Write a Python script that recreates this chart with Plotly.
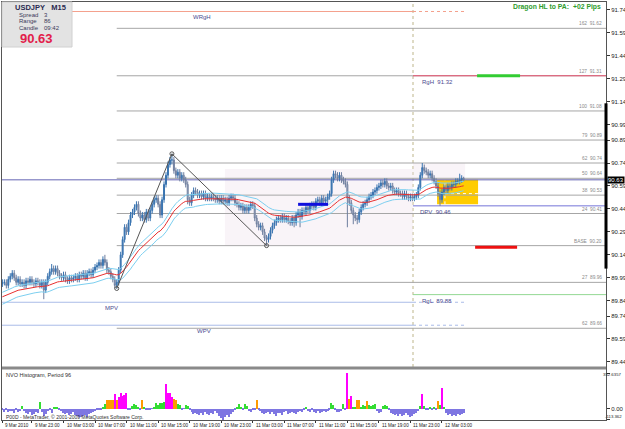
import plotly.graph_objects as go

# ---------------- data ----------------
closes = [89.96, 89.96, 89.94, 89.98, 90.00, 90.02, 89.99, 89.96, 89.98, 89.95,
          89.96, 89.94, 89.97, 89.96, 89.98, 89.96, 89.95, 89.97, 89.96, 89.94,
          89.96, 89.91, 89.96, 90.00, 90.03, 90.05, 90.03, 90.05, 90.02, 90.00,
          89.99, 90.01, 89.98, 89.97, 89.99, 89.98, 89.99, 90.00, 89.98, 90.01,
          90.00, 90.02, 89.99, 90.02, 90.03, 90.01, 90.04, 90.06, 90.07, 90.09,
          90.07, 90.11, 90.09, 90.04, 90.03, 90.00, 89.98, 89.94, 89.96, 90.04,
          90.14, 90.24, 90.32, 90.29, 90.35, 90.40, 90.42, 90.45, 90.47, 90.41,
          90.38, 90.40, 90.37, 90.42, 90.38, 90.43, 90.47, 90.50, 90.51, 90.47,
          90.40, 90.50, 90.60, 90.66, 90.73, 90.76, 90.76, 90.69, 90.66, 90.68,
          90.64, 90.66, 90.63, 90.60, 90.50, 90.48, 90.53, 90.56, 90.55, 90.53,
          90.54, 90.52, 90.54, 90.51, 90.52, 90.51, 90.52, 90.51, 90.50, 90.51,
          90.49, 90.51, 90.49, 90.50, 90.48, 90.51, 90.52, 90.51, 90.48, 90.47,
          90.45, 90.46, 90.43, 90.45, 90.43, 90.45, 90.47, 90.46, 90.38, 90.34,
          90.32, 90.33, 90.29, 90.25, 90.24, 90.26, 90.30, 90.33, 90.35, 90.37,
          90.38, 90.37, 90.39, 90.37, 90.38, 90.36, 90.35, 90.38, 90.35, 90.40,
          90.42, 90.39, 90.43, 90.42, 90.45, 90.43, 90.46, 90.47, 90.45, 90.49,
          90.50, 90.48, 90.51, 90.49, 90.50, 90.52, 90.54, 90.63, 90.67, 90.66,
          90.64, 90.66, 90.63, 90.62, 90.60, 90.51, 90.48, 90.43, 90.40, 90.38,
          90.37, 90.42, 90.45, 90.47, 90.48, 90.50, 90.52, 90.53, 90.55, 90.56,
          90.58, 90.59, 90.61, 90.60, 90.62, 90.59, 90.58, 90.59, 90.56, 90.55,
          90.56, 90.54, 90.54, 90.52, 90.54, 90.52, 90.51, 90.52, 90.51, 90.52,
          90.53, 90.58, 90.66, 90.71, 90.69, 90.68, 90.66, 90.67, 90.64, 90.62,
          90.59, 90.54, 90.50, 90.55, 90.58, 90.56, 90.59, 90.58, 90.60, 90.60,
          90.62, 90.62, 90.63, 90.64, 90.63]

opens = [89.95, 89.96, 89.96, 89.94, 89.98, 90.00, 90.02, 89.99, 89.96, 89.98,
         89.95, 89.96, 89.94, 89.97, 89.96, 89.98, 89.96, 89.95, 89.97, 89.96,
         89.94, 89.96, 89.91, 89.96, 90.00, 90.03, 90.05, 90.03, 90.05, 90.02,
         90.00, 89.99, 90.01, 89.98, 89.97, 89.99, 89.98, 89.99, 90.00, 89.98,
         90.01, 90.00, 90.02, 89.99, 90.02, 90.03, 90.01, 90.04, 90.06, 90.07,
         90.09, 90.07, 90.11, 90.09, 90.04, 90.03, 90.00, 89.98, 89.94, 89.96,
         90.04, 90.14, 90.24, 90.32, 90.29, 90.35, 90.40, 90.42, 90.45, 90.47,
         90.41, 90.38, 90.40, 90.37, 90.42, 90.38, 90.43, 90.47, 90.50, 90.51,
         90.47, 90.40, 90.50, 90.60, 90.66, 90.73, 90.76, 90.76, 90.69, 90.66,
         90.68, 90.64, 90.66, 90.63, 90.60, 90.50, 90.48, 90.53, 90.56, 90.55,
         90.53, 90.54, 90.52, 90.54, 90.51, 90.52, 90.51, 90.52, 90.51, 90.50,
         90.51, 90.49, 90.51, 90.49, 90.50, 90.48, 90.51, 90.52, 90.51, 90.48,
         90.47, 90.45, 90.46, 90.43, 90.45, 90.43, 90.45, 90.47, 90.46, 90.38,
         90.34, 90.32, 90.33, 90.29, 90.25, 90.24, 90.26, 90.30, 90.33, 90.35,
         90.37, 90.38, 90.37, 90.39, 90.37, 90.38, 90.36, 90.35, 90.38, 90.35,
         90.40, 90.42, 90.39, 90.43, 90.42, 90.45, 90.43, 90.46, 90.47, 90.45,
         90.49, 90.50, 90.48, 90.51, 90.49, 90.50, 90.52, 90.54, 90.63, 90.67,
         90.66, 90.64, 90.66, 90.63, 90.62, 90.60, 90.51, 90.48, 90.43, 90.40,
         90.38, 90.37, 90.42, 90.45, 90.47, 90.48, 90.50, 90.52, 90.53, 90.55,
         90.56, 90.58, 90.59, 90.61, 90.60, 90.62, 90.59, 90.58, 90.59, 90.56,
         90.55, 90.56, 90.54, 90.54, 90.52, 90.54, 90.52, 90.51, 90.52, 90.51,
         90.52, 90.53, 90.58, 90.66, 90.71, 90.69, 90.68, 90.66, 90.67, 90.64,
         90.62, 90.59, 90.54, 90.50, 90.55, 90.58, 90.56, 90.59, 90.58, 90.60,
         90.60, 90.62, 90.62, 90.63, 90.64]

highs = [89.98, 89.98, 89.98, 90.00, 90.02, 90.04, 90.04, 90.01, 90.00, 90.00,
         89.98, 89.98, 89.99, 89.99, 90.00, 90.00, 89.98, 89.99, 89.99, 89.98,
         89.98, 89.98, 89.98, 90.02, 90.05, 90.08, 90.07, 90.07, 90.07, 90.04,
         90.02, 90.03, 90.03, 90.00, 90.01, 90.01, 90.01, 90.02, 90.02, 90.03,
         90.03, 90.04, 90.04, 90.04, 90.05, 90.05, 90.06, 90.08, 90.09, 90.11,
         90.11, 90.13, 90.14, 90.11, 90.06, 90.05, 90.02, 90.00, 89.98, 90.06,
         90.16, 90.26, 90.34, 90.34, 90.37, 90.42, 90.44, 90.47, 90.49, 90.49,
         90.43, 90.42, 90.42, 90.44, 90.44, 90.45, 90.49, 90.52, 90.53, 90.53,
         90.49, 90.52, 90.62, 90.68, 90.75, 90.78, 90.80, 90.78, 90.71, 90.70,
         90.70, 90.68, 90.68, 90.65, 90.62, 90.52, 90.55, 90.58, 90.58, 90.57,
         90.56, 90.56, 90.56, 90.56, 90.54, 90.54, 90.54, 90.54, 90.53, 90.53,
         90.53, 90.53, 90.53, 90.52, 90.52, 90.53, 90.54, 90.54, 90.53, 90.50,
         90.49, 90.48, 90.48, 90.47, 90.47, 90.47, 90.49, 90.49, 90.48, 90.40,
         90.36, 90.35, 90.35, 90.31, 90.27, 90.28, 90.32, 90.35, 90.37, 90.39,
         90.40, 90.40, 90.41, 90.41, 90.40, 90.40, 90.38, 90.40, 90.40, 90.42,
         90.44, 90.44, 90.45, 90.45, 90.47, 90.47, 90.48, 90.49, 90.49, 90.51,
         90.52, 90.52, 90.53, 90.53, 90.52, 90.54, 90.56, 90.65, 90.69, 90.69,
         90.68, 90.68, 90.68, 90.65, 90.64, 90.62, 90.53, 90.50, 90.45, 90.42,
         90.40, 90.44, 90.47, 90.49, 90.50, 90.52, 90.54, 90.55, 90.57, 90.58,
         90.60, 90.61, 90.63, 90.63, 90.64, 90.64, 90.61, 90.61, 90.61, 90.58,
         90.58, 90.58, 90.56, 90.56, 90.56, 90.56, 90.54, 90.54, 90.54, 90.54,
         90.55, 90.60, 90.68, 90.74, 90.73, 90.71, 90.70, 90.69, 90.69, 90.66,
         90.64, 90.61, 90.56, 90.57, 90.60, 90.60, 90.61, 90.61, 90.62, 90.62,
         90.64, 90.64, 90.67, 90.66, 90.65]

lows = [89.93, 89.94, 89.92, 89.92, 89.96, 89.98, 89.97, 89.94, 89.94, 89.93,
        89.93, 89.92, 89.92, 89.94, 89.94, 89.94, 89.93, 89.93, 89.94, 89.92,
        89.92, 89.85, 89.89, 89.94, 89.98, 90.01, 90.01, 90.01, 90.00, 89.98,
        89.97, 89.97, 89.96, 89.95, 89.95, 89.96, 89.96, 89.97, 89.96, 89.96,
        89.98, 89.98, 89.97, 89.97, 90.00, 89.99, 89.99, 90.02, 90.04, 90.05,
        90.05, 90.05, 90.07, 90.02, 90.01, 89.98, 89.96, 89.92, 89.92, 89.94,
        90.02, 90.12, 90.22, 90.27, 90.27, 90.33, 90.38, 90.40, 90.43, 90.39,
        90.36, 90.36, 90.35, 90.35, 90.36, 90.36, 90.41, 90.45, 90.48, 90.45,
        90.38, 90.38, 90.48, 90.58, 90.64, 90.71, 90.73, 90.67, 90.64, 90.64,
        90.62, 90.62, 90.61, 90.58, 90.47, 90.46, 90.46, 90.51, 90.53, 90.51,
        90.51, 90.50, 90.50, 90.49, 90.49, 90.49, 90.49, 90.49, 90.48, 90.48,
        90.47, 90.47, 90.47, 90.47, 90.46, 90.46, 90.49, 90.49, 90.46, 90.45,
        90.43, 90.43, 90.41, 90.41, 90.41, 90.41, 90.43, 90.44, 90.36, 90.32,
        90.30, 90.30, 90.27, 90.23, 90.20, 90.22, 90.24, 90.28, 90.31, 90.33,
        90.35, 90.35, 90.35, 90.35, 90.35, 90.34, 90.33, 90.33, 90.32, 90.33,
        90.38, 90.32, 90.37, 90.40, 90.40, 90.41, 90.41, 90.44, 90.43, 90.43,
        90.47, 90.46, 90.46, 90.47, 90.47, 90.48, 90.50, 90.52, 90.61, 90.64,
        90.62, 90.62, 90.61, 90.60, 90.58, 90.32, 90.46, 90.41, 90.34, 90.36,
        90.34, 90.35, 90.40, 90.43, 90.45, 90.46, 90.48, 90.50, 90.51, 90.53,
        90.54, 90.56, 90.57, 90.58, 90.58, 90.57, 90.56, 90.56, 90.54, 90.53,
        90.53, 90.52, 90.52, 90.50, 90.50, 90.50, 90.49, 90.49, 90.49, 90.49,
        90.50, 90.51, 90.56, 90.64, 90.67, 90.66, 90.64, 90.64, 90.62, 90.60,
        90.57, 90.52, 90.46, 90.48, 90.53, 90.54, 90.54, 90.56, 90.56, 90.58,
        90.58, 90.60, 90.60, 90.61, 90.62]

nvo_values = [-20, -35, -15, -40, -25, -30, -45, -20, -35, -25,
              25, -30, -45, -60, -40, -70, -55, -35, -50, 65,
              -40, -80, -60, -30, -20, -50, 10, 15, 12, -10,
              -30, -45, -60, -50, -70, -55, -40, -65, -75, -85,
              -90, -80, -70, -85, -60, -50, -40, -30, -20, -10,
              -15, 10, 45, 85, 88, 85, 90, 150, 85, 120,
              160, 130, 140, 160, -10, -20, 30, 45, 40, 20,
              -15, 90, 20, -10, -10, -15, -5, 10, 55, 40,
              60, 55, 70, 250, 155, 160, 120, 95, 90, 50,
              35, -10, -5, 40, 30, -20, -40, -55, -45, -60,
              -70, -50, -65, -40, -55, -70, -45, -60, -30, -50,
              -80, -95, -113.362, -85, -70, -90, -60, -40, -20, 10,
              50, 20, -15, 45, 30, -25, -40, -20, -10, 90,
              -15, -30, -45, -60, -50, -40, -55, -35, -60, -75,
              -50, -45, -65, -40, -30, -55, -45, -35, -50, -60,
              -40, -25, -35, -20, 15, -30, -40, -20, -35, -45,
              -30, -50, -35, -25, -40, -30, -15, 60, 40, -20,
              -35, -40, -25, 45, -10, 352.6357, 94, 124, 20, 15,
              90, 85, 10, 35, 30, 80, 35, 30, 35, 50,
              -30, -50, -40, 30, 40, 25, -20, -45, -60, -70,
              -55, -75, -60, -80, -65, -50, -70, -85, -75, -60,
              -45, -30, 25, 150, 30, -20, -10, 10, -15, 15,
              -10, 80, 35, 205, 20, -50, -70, -60, -80, -65,
              -75, -55, -70, -60, -50]

dragon_seed_high, dragon_seed_close, dragon_seed_low = 89.89, 89.86, 89.81
zigzag_bars = [58, 86, 134]
zigzag_prices = [89.92, 90.80, 90.20]

fib_names = ["162", "127", "100", "79", "62", "50", "38", "24", "BASE", "27", "62"]
fib_prices = [91.62, 91.31, 91.08, 90.89, 90.74, 90.64, 90.53, 90.41, 90.20, 89.96, 89.66]
fib_start_bar = 58

price_ticks = [91.74, 91.59, 91.44, 91.29, 91.14, 90.99, 90.89, 90.74, 90.59,
               90.44, 90.29, 90.14, 89.99, 89.84, 89.74, 89.59, 89.44]
time_tick_bars = [0, 15, 31, 47, 63, 79, 95, 111, 127, 143, 159, 175, 191, 207, 223]
time_tick_text = ["9 Mar 2010", "9 Mar 23:00", "10 Mar 03:00", "10 Mar 07:00", "10 Mar 11:00",
                  "10 Mar 15:00", "10 Mar 19:00", "10 Mar 23:00", "11 Mar 03:00", "11 Mar 07:00",
                  "11 Mar 11:00", "11 Mar 15:00", "11 Mar 19:00", "11 Mar 23:00", "12 Mar 03:00"]
nvo_max, nvo_min = 352.6357, -113.362
nvo_max_text, nvo_zero_text, nvo_min_text = "352.6357", "0.00", "-113.362"

bid_price = 90.63
session_bar = 208.3          # day separator
proj_end_bar = 234.7
wrgh, rgh, rgl, dpv, mpv, wpv = 91.73, 91.31, 89.88, 90.46, 89.83, 89.68
range_bar_prices = [90.05, 91.13]
box_bars = [220.5, 241.3]; box_prices = [90.47, 90.63]
zone_bars = [112.9, 208.3]; zone_prices = [90.20, 90.70]
zone2_bars = [208.3, 234.7]; zone2_prices = [90.63, 90.74]
marker_green = (240.8, 262.6, 91.31)
marker_red = (239.8, 261.1, 90.19)
marker_blue = (150.0, 165.2, 90.47)

# ---------------- indicators ----------------
def ema(vals, seed, n=34):
    k = 2.0 / (n + 1)
    e = seed
    out = []
    for v in vals:
        e = e + k * (v - e)
        out.append(e)
    return out

N = len(closes)
bars = list(range(N))
ema_h = ema(highs, dragon_seed_high)
ema_c = ema(closes, dragon_seed_close)
ema_l = ema(lows, dragon_seed_low)

def nvo_color(v):
    if v < 0:
        return "#7E76E2"
    if v < 75:
        return "#33DD33"
    if v < 110:
        return "#FF9A00"
    return "#FF00FF"

# ---------------- geometry helpers (pixel -> paper) ----------------
W, H = 625, 429
ML, MR, MT, MB = 2, 19, 2, 9
PW, PH = W - ML - MR, H - MT - MB
def px(x):
    return (x - ML) / PW
def py(y):
    return (H - MB - y) / PH

XR = [-0.2, 306.2]
main_dom = [py(367), 1.0]
low_dom = [0.0, py(369)]
YR = [89.407, 91.792]
Y2R = [-115.8, 397.8]

FONT = "Liberation Sans"
SLATE = "#4B4B8F"
GRAY = "#A6A6A6"

fig = go.Figure()

fig.add_trace(go.Scatter(x=bars, y=ema_h, mode="lines", line=dict(color="#7CCFF0", width=1), hoverinfo="skip"))
fig.add_trace(go.Scatter(x=bars, y=ema_l, mode="lines", line=dict(color="#7CCFF0", width=1), hoverinfo="skip"))
fig.add_trace(go.Scatter(x=bars, y=ema_c, mode="lines", line=dict(color="#E83030", width=1), hoverinfo="skip"))

fig.add_trace(go.Candlestick(
    x=bars, open=opens, high=highs, low=lows, close=closes,
    increasing=dict(line=dict(color="#3A74B0", width=1), fillcolor="#3A74B0"),
    decreasing=dict(line=dict(color="#6E7E9E", width=1), fillcolor="#C4C8D8"),
    whiskerwidth=0, xaxis="x", yaxis="y", hoverinfo="skip"))

fig.add_trace(go.Scatter(x=zigzag_bars, y=zigzag_prices, mode="lines+markers",
                         line=dict(color="#555555", width=1),
                         marker=dict(symbol="circle-open", size=4, color="#555555"),
                         hoverinfo="skip"))

fig.add_trace(go.Bar(x=bars, y=nvo_values, marker=dict(color=[nvo_color(v) for v in nvo_values], line=dict(width=0)),
                     width=0.65, xaxis="x2", yaxis="y2", hoverinfo="skip"))

shapes = []
def hline(x0, x1, y, color, width=1, dash="solid", layer="below"):
    shapes.append(dict(type="line", xref="x", yref="y", x0=x0, x1=x1, y0=y, y1=y,
                       line=dict(color=color, width=width, dash=dash), layer=layer))

# zones
shapes.append(dict(type="rect", xref="x", yref="y", x0=zone_bars[0], x1=zone_bars[1], y0=zone_prices[0], y1=zone_prices[1],
                   fillcolor="rgba(236,220,232,0.32)", line=dict(width=0), layer="below"))
shapes.append(dict(type="rect", xref="x", yref="y", x0=zone2_bars[0], x1=zone2_bars[1], y0=zone2_prices[0], y1=zone2_prices[1],
                   fillcolor="rgba(236,220,232,0.32)", line=dict(width=0), layer="below"))
shapes.append(dict(type="rect", xref="x", yref="y", x0=box_bars[0], x1=box_bars[1], y0=box_prices[0], y1=box_prices[1],
                   fillcolor="#FFCC00", line=dict(width=0), layer="below"))
hline(224.5, box_bars[1], 90.54, "white", 1, "dot")
shapes.append(dict(type="line", xref="x", yref="y", x0=224.5, x1=224.5, y0=box_prices[0], y1=box_prices[1],
                   line=dict(color="white", width=1, dash="dot"), layer="below"))

# fib levels
for p in fib_prices:
    hline(fib_start_bar, XR[1], p, GRAY)

# pivots / ranges
hline(XR[0], session_bar, wrgh, "#F4A08C")
hline(session_bar, proj_end_bar, wrgh, "#F4A08C", 1, "dot")
hline(session_bar, XR[1], rgh, "#E8506E")
hline(XR[0], XR[1], bid_price, "#6464B4")
hline(session_bar, XR[1], dpv, "#7474D8")
hline(session_bar, XR[1], rgl, "#94D894")
hline(XR[0], session_bar, mpv, "#AABCE8")
hline(session_bar, proj_end_bar, mpv, "#AABCE8", 1, "dot")
hline(XR[0], session_bar, wpv, "#AABCE8")
hline(session_bar, proj_end_bar, wpv, "#AABCE8", 1, "dot")

# day separator
shapes.append(dict(type="line", xref="x", yref="paper", x0=session_bar, x1=session_bar, y0=main_dom[0], y1=1,
                   line=dict(color="#BDB58A", width=1, dash="dot"), layer="below"))

# thick markers
hline(marker_green[0], marker_green[1], marker_green[2], "#33CC33", 3, "solid", "above")
hline(marker_red[0], marker_red[1], marker_red[2], "#EE1010", 3, "solid", "above")
hline(marker_blue[0], marker_blue[1], marker_blue[2], "#1010DD", 3, "solid", "above")

# range bar on price scale
shapes.append(dict(type="line", xref="paper", yref="y", x0=1.0, x1=1.0, y0=range_bar_prices[0], y1=range_bar_prices[1],
                   line=dict(color="black", width=3), layer="above"))

# info box
shapes.append(dict(type="rect", xref="paper", yref="paper", x0=px(2), x1=px(72), y0=py(47), y1=py(2),
                   fillcolor="#E3E3E3", line=dict(color="#D0D0D0", width=1), layer="above"))

# panel separator
shapes.append(dict(type="rect", xref="paper", yref="paper", x0=0, x1=1, y0=py(369.5), y1=py(366.5),
                   fillcolor="#8A8A8A", line=dict(width=0), layer="above"))

ann = []
def text(x, y, s, size=6, color="#333333", xanchor="left", yanchor="middle", bold=False, xref="paper", yref="paper", **kw):
    d = dict(x=x, y=y, xref=xref, yref=yref, text=("<b>%s</b>" % s) if bold else s, showarrow=False,
             font=dict(family=FONT, size=size, color=color), xanchor=xanchor, yanchor=yanchor)
    d.update(kw)
    ann.append(d)

# info box text
text(px(13), py(7), "USDJPY&nbsp;&nbsp;&nbsp;M15", 7.5, "#2A2A50", bold=True)
for row_y, lab, val in [(15, "Spread", "3"), (21.5, "Range", "86"), (28, "Candle", "09:42")]:
    text(px(17), py(row_y), lab, 6, "#3A3A5A")
    text(px(42), py(row_y), val, 6, "#3A3A5A")
text(px(18), py(38.5), "90.63", 13, "#E2204A", bold=True)

text(px(511), py(7), "Dragon HL to PA:", 6.8, "#2E9B2E", bold=True)
text(px(603), py(7), "+02 Pips", 6.8, "#2E9B2E", bold=True, xanchor="right")

# level labels
text(px(191), wrgh, "WRgH", 6, SLATE, yref="y", yanchor="top", yshift=-1)
text(px(420), rgh, "RgH&nbsp;&nbsp;91.32", 6, SLATE, yref="y", yanchor="top", yshift=-1)
text(px(418), dpv, "DPV&nbsp;&nbsp;90.46", 6, SLATE, yref="y", yanchor="top", yshift=-1)
text(px(420), rgl, "RgL&nbsp;&nbsp;89.88", 6, SLATE, yref="y", yanchor="top", yshift=-1)
text(px(103), mpv, "MPV", 6, SLATE, yref="y", yanchor="top", yshift=-1)
text(px(195), wpv, "WPV", 6, SLATE, yref="y", yanchor="top", yshift=-1)
for nm, p in zip(fib_names, fib_prices):
    text(px(604), p, "%s&nbsp;&nbsp;%.2f" % (nm, p), 4.8, "#8A8A8A", xanchor="right", yref="y", yanchor="bottom")

# bid tag
text(1.0, bid_price, "90.63", 6, "white", yref="y", bgcolor="black", borderpad=0, xshift=1)

# lower panel scale labels (right-aligned so they fit the window)
text(px(624), nvo_max, nvo_max_text, 4.3, "#222222", xanchor="right", yref="y2", yshift=-1)
text(px(624), nvo_min, nvo_min_text, 4.3, "#222222", xanchor="right", yref="y2", yshift=3)

# lower panel texts
text(px(4), py(375), "NVO Histogram, Period 96", 5.5, "#303030")
text(px(4), py(416.5), "P00D - MetaTrader, © 2001-2009 MetaQuotes Software Corp.", 5, "#303030")

# time labels
for b, t in zip(time_tick_bars, time_tick_text):
    text(b, 0, t, 4.6, "#222222", xref="x2", yanchor="top", xshift=1, yshift=-1)

fig.update_layout(
    width=W, height=H, margin=dict(l=ML, r=MR, t=MT, b=MB, autoexpand=False),
    template="none", paper_bgcolor="white", plot_bgcolor="white", showlegend=False,
    bargap=0, shapes=shapes, annotations=ann,
    xaxis=dict(domain=[0, 1], range=XR, anchor="y", showgrid=False, zeroline=False, showticklabels=False,
               ticks="", showline=True, mirror=True, linecolor="#555555", linewidth=1,
               rangeslider=dict(visible=False), automargin=False),
    yaxis=dict(domain=main_dom, range=YR, side="right", anchor="x", tickvals=price_ticks,
               ticktext=["%.2f" % v for v in price_ticks], ticks="outside", ticklen=3, tickcolor="#333333",
               tickfont=dict(family=FONT, size=6, color="#222222"), showgrid=False, zeroline=False,
               showline=True, mirror=True, linecolor="#555555", linewidth=1, automargin=False),
    xaxis2=dict(domain=[0, 1], range=XR, anchor="y2", showgrid=False, zeroline=False, showticklabels=False,
                tickvals=time_tick_bars, ticks="outside", ticklen=2, tickcolor="#333333",
                showline=True, mirror=True, linecolor="#555555", linewidth=1, automargin=False),
    yaxis2=dict(domain=low_dom, range=Y2R, side="right", anchor="x2", tickvals=[nvo_max, 0.0, nvo_min],
                ticktext=["", nvo_zero_text, ""],
                ticks="outside", ticklen=3, tickcolor="#333333",
                tickfont=dict(family=FONT, size=6, color="#222222"), showgrid=False, zeroline=False,
                showline=True, mirror=True, linecolor="#555555", linewidth=1, automargin=False),
)

fig.write_html("out.html")
